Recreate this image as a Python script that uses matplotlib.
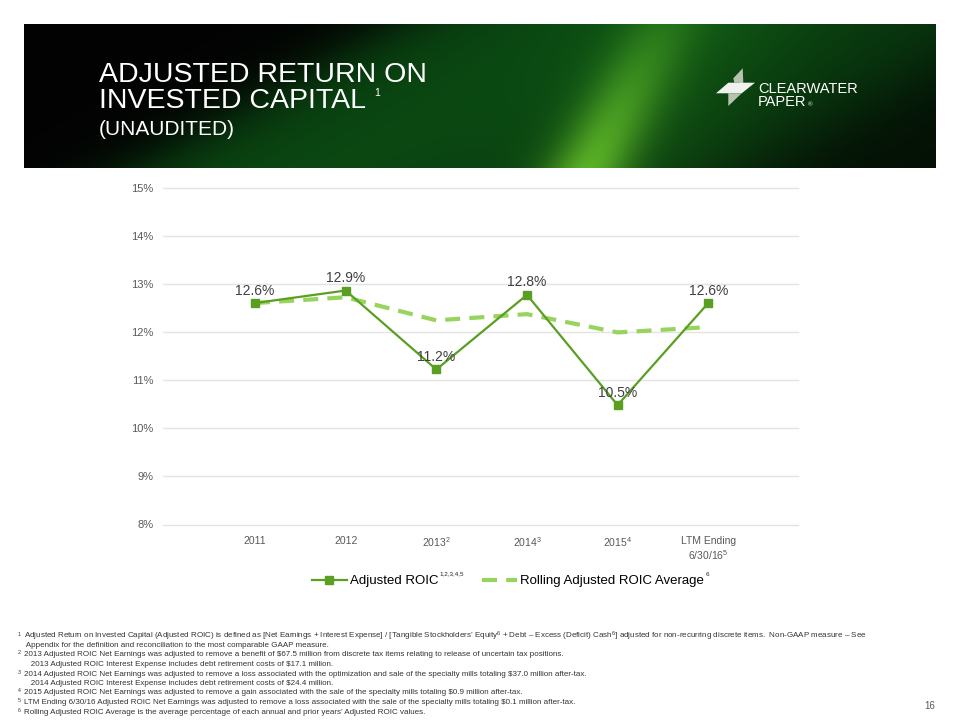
import numpy as np
import matplotlib
matplotlib.use('Agg')
import matplotlib.pyplot as plt
from matplotlib.patches import Polygon

plt.rcParams['font.family'] = ['Liberation Sans', 'DejaVu Sans']
plt.rcParams['mathtext.fontset'] = 'custom'
plt.rcParams['mathtext.rm'] = 'Liberation Sans'
plt.rcParams['mathtext.it'] = 'Liberation Sans'
plt.rcParams['mathtext.bf'] = 'Liberation Sans:bold'

# data
categories = ['2011', '2012', '2013$^{2}$', '2014$^{3}$', '2015$^{4}$', 'LTM Ending\n6/30/16$^{5}$']
roic = [12.6, 12.86, 11.22, 12.77, 10.48, 12.6]
rolling = [12.6, 12.72, 12.24, 12.37, 11.99, 12.1]
yticks = [8, 9, 10, 11, 12, 13, 14, 15]
series_names = ['Adjusted ROIC', 'Rolling Adjusted ROIC Average']
series_sups = ['1,2,3,4,5', '6']

footnotes = [
    ('1', "Adjusted Return on Invested Capital (Adjusted ROIC) is defined as [Net Earnings + Interest Expense] / [Tangible Stockholders\u2019 Equity$^{6}$ + Debt \u2013 Excess (Deficit) Cash$^{6}$] adjusted for non-recurring discrete items.  Non-GAAP measure \u2013 See"),
    ('', " Appendix for the definition and reconciliation to the most comparable GAAP measure."),
    ('2', "2013 Adjusted ROIC Net Earnings was adjusted to remove a benefit of $67.5 million from discrete tax items relating to release of uncertain tax positions."),
    ('', "   2013 Adjusted ROIC Interest Expense includes debt retirement costs of $17.1 million."),
    ('3', "2014 Adjusted ROIC Net Earnings was adjusted to remove a loss associated with the optimization and sale of the specialty mills totaling $37.0 million after-tax."),
    ('', "   2014 Adjusted ROIC Interest Expense includes debt retirement costs of $24.4 million."),
    ('4', "2015 Adjusted ROIC Net Earnings was adjusted to remove a gain associated with the sale of the specialty mills totaling $0.9 million after-tax."),
    ('5', "LTM Ending 6/30/16 Adjusted ROIC Net Earnings was adjusted to remove a loss associated with the sale of the specialty mills totaling $0.1 million after-tax."),
    ('6', "Rolling Adjusted ROIC Average is the average percentage of each annual and prior years\u2019 Adjusted ROIC values."),
]

c_roic = '#5a9f22'
c_roll = '#97d45e'

fig = plt.figure(figsize=(9.6, 7.2), dpi=100)

# page overlay in pixel coords
bg = fig.add_axes([0, 0, 1, 1], zorder=0)
bg.axis('off')

# banner gradient (decoration only)
W, H = 456, 72
u = np.linspace(0, 1, W)[None, :]
v = np.linspace(0, 1, H)[:, None]
d = u + 0.28 * v
sig = lambda t: 1 / (1 + np.exp(-t))
body = sig((d - 0.40) / 0.035) * (1 - 0.75 * sig((d - 1.08) / 0.05))
body = body * (0.75 + 0.25 * np.exp(-((d - 0.62) / 0.25) ** 2))
d2 = u + 0.08 * v
streak = np.exp(-((d2 - 0.70) / 0.045) ** 2) * (0.3 + 0.7 * v)
glow = np.exp(-((d2 - 0.74) / 0.12) ** 2) * 0.35
r = 0.01 + 0.03 * body + 0.30 * streak + 0.06 * glow
g = 0.01 + 0.27 * body + 0.40 * streak + 0.20 * glow
b = 0.01 + 0.06 * body + 0.08 * streak + 0.03 * glow
img = np.clip(np.dstack([r, g, b]), 0, 1)
bg.imshow(img, extent=[24, 936, 168, 24], aspect='auto', interpolation='bilinear', zorder=0)
bg.set_xlim(0, 960)
bg.set_ylim(720, 0)

bg.text(99, 81.7, 'ADJUSTED RETURN ON', color='white', fontsize=20.5, va='baseline', ha='left')
bg.text(99, 108.3, 'INVESTED CAPITAL', color='white', fontsize=20.5, va='baseline', ha='left')
bg.text(374, 96, '1', color='white', fontsize=7.5, va='baseline', ha='left')
bg.text(99, 135, '(UNAUDITED)', color='white', fontsize=15, va='baseline', ha='left')

# logo
for pts, col in [
    ([(733.3, 78.3), (742.7, 68.3), (743.3, 82.7), (734.3, 82.7)], '#b7c3b1'),
    ([(716, 93.3), (728.3, 82.7), (743.3, 82.7), (730, 93.3)], '#eef1ec'),
    ([(740, 82.7), (755, 82.7), (741.7, 93.3), (728.3, 93.3)], '#eef1ec'),
    ([(728.3, 93.3), (741.7, 93.3), (728.3, 106)], '#b7c3b1'),
]:
    bg.add_patch(Polygon(pts, closed=True, facecolor=col, edgecolor='none', zorder=2))
bg.text(758, 93.3, 'CLEARWATER', color='white', fontsize=10.5, va='baseline', ha='left')
bg.text(758, 106.5, 'PAPER', color='white', fontsize=10.5, va='baseline', ha='left')
bg.text(808, 106.5, '\u00ae', color='white', fontsize=4.5, va='baseline', ha='left')

# footnotes
y0 = 636
for i, (num, line) in enumerate(footnotes):
    y = y0 + i * 9.5
    if num:
        bg.text(18, y - 2, num, fontsize=3.8, color='#333333', va='center', ha='left')
    bg.text(24, y, line, fontsize=5.8, color='#333333', va='center', ha='left',
            parse_math=(i == 0))
bg.text(930, 706, '16', fontsize=7, color='#595959', va='center', ha='center')

# chart
ax = fig.add_axes([163 / 960, 1 - 524.5 / 720, (798 - 163) / 960, (524.5 - 187.5) / 720], zorder=1)
ax.set_facecolor('none')
x = np.arange(len(categories))
l_roll, = ax.plot(x, rolling, color=c_roll, lw=3, dashes=(3.6, 2.2), solid_capstyle='butt', zorder=2)
l_roic, = ax.plot(x, roic, color=c_roic, lw=1.6, marker='s', markersize=5.5, zorder=3)
for xi, val in zip(x, roic):
    ax.annotate(f'{val:.1f}%', (xi, val), xytext=(0, 9), textcoords='offset points',
                ha='center', va='center', fontsize=10, color='#404040')

ax.set_xlim(-1.015, 5.99)
ax.set_ylim(8, 15)
ax.set_yticks(yticks)
ax.set_yticklabels([f'{t}%' for t in yticks])
ax.set_xticks(x)
ax.set_xticklabels(categories)
ax.grid(axis='y', color='#e3e3e3', lw=1)
ax.set_axisbelow(True)
for s in ax.spines.values():
    s.set_visible(False)
ax.tick_params(length=0, labelsize=7.5, labelcolor='#595959')
ax.tick_params(axis='y', pad=7)
ax.tick_params(axis='x', pad=8)
for lab in ax.get_yticklabels():
    lab.set_fontsize(8)
for gl in ax.get_ygridlines():
    gl.set_clip_on(False)

leg = fig.legend([l_roic, l_roll], series_names, loc='center',
                 bbox_to_anchor=(508 / 960, 1 - 581 / 720),
                 ncol=2, frameon=False, fontsize=9.5, handlelength=2.65, columnspacing=3.3,
                 handletextpad=0.25)

# tiny superscripts after legend labels
fig.canvas.draw()
r_ = fig.canvas.get_renderer()
for t, sup in zip(leg.get_texts(), series_sups):
    bb = t.get_window_extent(r_)
    fig.text((bb.x1 + 1) / 960, (bb.y1 + 1) / 720, sup, fontsize=4.5, color='#222222',
             va='center', ha='left')

fig.savefig('out.png', dpi=100)
